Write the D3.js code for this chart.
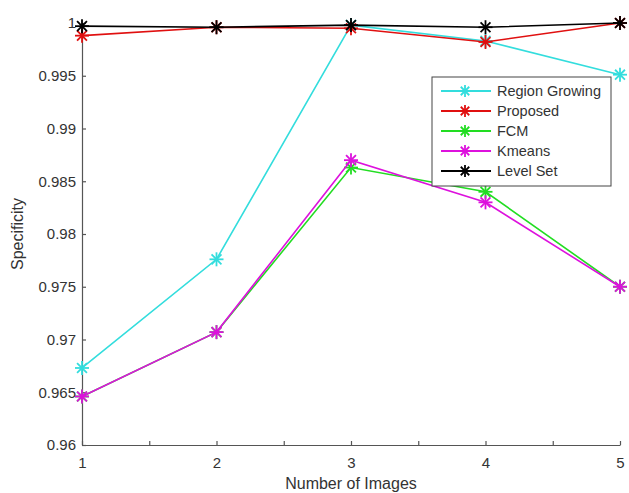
<!DOCTYPE html>
<html>
<head>
<meta charset="utf-8">
<script src="https://cdn.jsdelivr.net/npm/d3@7"></script>
<style>
  body { margin: 0; background: #fff; }
  text { font-family: "Liberation Sans", Arial, sans-serif; fill: #333; }
</style>
</head>
<body>
<svg id="chart" width="629" height="493"></svg>
<script>
// data
const images = [1, 2, 3, 4, 5];
const seriesNames = ["Region Growing", "Proposed", "FCM", "Kmeans", "Level Set"];
const seriesColors = ["#33dddd", "#e01010", "#22dd22", "#dd11dd", "#000000"];
const regionGrowing = [0.9673, 0.9776, 0.9998, 0.9983, 0.9951];
const proposed = [0.9988, 0.9996, 0.9995, 0.9982, 1.0];
const fcm = [0.9646, 0.9707, 0.9863, 0.9840, 0.9750];
const kmeans = [0.9646, 0.9707, 0.9870, 0.9830, 0.9750];
const levelSet = [0.9997, 0.9996, 0.9998, 0.9996, 1.0];
const yTicks = [0.96, 0.965, 0.97, 0.975, 0.98, 0.985, 0.99, 0.995, 1];
const xMinorTicks = [1, 1.5, 2, 2.5, 3, 3.5, 4, 4.5, 5];

const allSeries = [regionGrowing, proposed, fcm, kmeans, levelSet];

const svg = d3.select("#chart");
const margin = {left: 82, right: 9, top: 23, bottom: 48};
const W = 629, H = 493;

const x = d3.scaleLinear().domain([1, 5]).range([margin.left, W - margin.right]);
const y = d3.scaleLinear().domain([0.96, 1]).range([H - margin.bottom, margin.top]);

// axes (ticks pointing inward, matlab style)
const gx = svg.append("g").attr("transform", `translate(0,${y(0.96)})`)
    .call(d3.axisBottom(x).tickValues(xMinorTicks).tickSizeInner(-4).tickSizeOuter(0)
        .tickFormat(d => Number.isInteger(d) ? d : ""));
gx.selectAll("text").attr("dy", "1.35em");
const gy = svg.append("g").attr("transform", `translate(${x(1)},0)`)
    .call(d3.axisLeft(y).tickValues(yTicks).tickSizeInner(-4).tickSizeOuter(0)
        .tickFormat(d => d === 1 ? "1" : d3.format("")(d)));
gy.selectAll("text").attr("dx", "-0.2em");
svg.selectAll(".domain, .tick line").attr("stroke", "#555").attr("stroke-width", 1.2);
svg.selectAll(".tick text").style("font-size", "15px").attr("fill", "#333");

svg.append("text").attr("x", (x(1) + x(5)) / 2).attr("y", 489)
    .attr("text-anchor", "middle").style("font-size", "16px").text("Number of Images");
svg.append("text").attr("transform", `translate(23,${y(0.98)}) rotate(-90)`)
    .attr("text-anchor", "middle").style("font-size", "16px").text("Specificity");

// asterisk marker
function star(g, cx, cy, color, r) {
    const angles = [0, 45, 90, 135];
    angles.forEach(a => {
        const rad = a * Math.PI / 180;
        g.append("line")
            .attr("x1", cx - r * Math.cos(rad)).attr("y1", cy - r * Math.sin(rad))
            .attr("x2", cx + r * Math.cos(rad)).attr("y2", cy + r * Math.sin(rad))
            .attr("stroke", color).attr("stroke-width", 1.8);
    });
}

const line = d3.line().x((d, i) => x(images[i])).y(d => y(d));

allSeries.forEach((vals, k) => {
    const g = svg.append("g");
    g.append("path").datum(vals).attr("d", line)
        .attr("fill", "none").attr("stroke", seriesColors[k]).attr("stroke-width", 1.6);
    vals.forEach((v, i) => star(g, x(images[i]), y(v), seriesColors[k], 7));
});

// legend
const lg = svg.append("g").attr("transform", "translate(432,77)");
lg.append("rect").attr("width", 179).attr("height", 109)
    .attr("fill", "#fff").attr("stroke", "#444").attr("stroke-width", 1);
seriesNames.forEach((name, k) => {
    const yy = 14 + k * 20;
    lg.append("line").attr("x1", 9).attr("x2", 59).attr("y1", yy).attr("y2", yy)
        .attr("stroke", seriesColors[k]).attr("stroke-width", 1.8);
    star(lg, 33, yy, seriesColors[k], 6);
    lg.append("text").attr("x", 65).attr("y", yy + 5).style("font-size", "14.5px")
        .attr("fill", "#111").text(name);
});
</script>
</body>
</html>
